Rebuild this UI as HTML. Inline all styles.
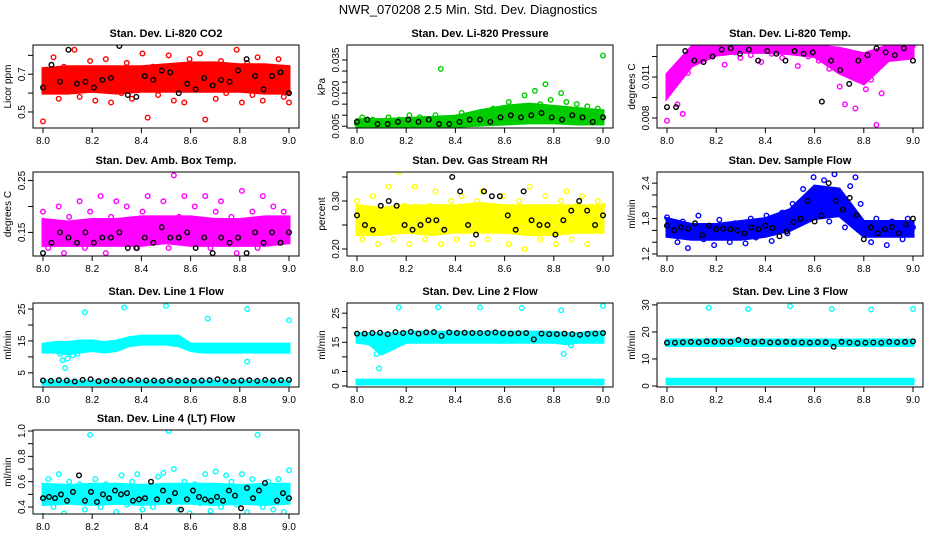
<!DOCTYPE html>
<html><head><meta charset="utf-8"><style>
html,body{margin:0;padding:0;background:#fff;width:936px;height:540px;overflow:hidden}
svg text{font-family:"Liberation Sans",sans-serif}
</style></head><body>
<svg id="c" width="936" height="540" viewBox="0 0 936 540">
<text x="468" y="14" text-anchor="middle" font-size="13">NWR_070208  2.5 Min. Std. Dev. Diagnostics</text>
</svg>
<script>
// ---- data ----
const xTicks=[8.0,8.2,8.4,8.6,8.8,9.0];
const xTickLabels=["8.0","8.2","8.4","8.6","8.8","9.0"];
const bandT11=[8.0,8.1,8.2,8.3,8.4,8.5,8.6,8.7,8.8,8.9,9.0];
const bandT21=[8.0,8.05,8.1,8.15,8.2,8.25,8.3,8.35,8.4,8.45,8.5,8.55,8.6,8.65,8.7,8.75,8.8,8.85,8.9,8.95,9.0];

const co2Main=[0.45,0.69,0.79,0.57,0.74,0.64,0.83,0.58,0.70,0.77,0.56,0.66,0.78,0.55,0.72,0.60,0.76,0.57,0.70,0.81,0.47,0.74,0.59,0.68,0.80,0.56,0.73,0.55,0.78,0.62,0.81,0.46,0.72,0.57,0.77,0.60,0.70,0.83,0.55,0.76,0.59,0.79,0.56,0.74,0.61,0.78,0.58,0.55];
const co2Black=[0.63,0.75,0.66,0.83,0.65,0.66,0.63,0.67,0.68,0.85,0.59,0.58,0.69,0.67,0.72,0.71,0.60,0.65,0.62,0.68,0.64,0.67,0.66,0.72,0.78,0.69,0.62,0.69,0.71,0.60];
const co2Lo=[0.60,0.60,0.61,0.60,0.61,0.61,0.61,0.61,0.61,0.60,0.60];
const co2Hi=[0.73,0.74,0.74,0.74,0.74,0.75,0.76,0.76,0.75,0.75,0.74];

const presMain=[0.006,0.009,0.005,0.008,0.004,0.007,0.009,0.005,0.008,0.006,0.010,0.005,0.009,0.007,0.006,0.010,0.031,0.008,0.006,0.009,0.011,0.006,0.010,0.008,0.011,0.007,0.013,0.009,0.012,0.016,0.010,0.014,0.019,0.012,0.021,0.015,0.024,0.017,0.013,0.020,0.016,0.012,0.015,0.011,0.014,0.010,0.013,0.037];
const presBlack=[0.007,0.008,0.006,0.006,0.007,0.008,0.007,0.008,0.006,0.006,0.007,0.008,0.008,0.007,0.009,0.010,0.009,0.010,0.011,0.009,0.008,0.010,0.009,0.007,0.009];
const presLo=[0.0045,0.0045,0.0045,0.0045,0.005,0.0055,0.006,0.0065,0.0065,0.006,0.006];
const presHi=[0.008,0.008,0.0085,0.009,0.0095,0.012,0.014,0.015,0.014,0.013,0.012];

const tempMain=[0.0078,0.0105,0.0090,0.0083,0.0113,0.0125,0.0130,0.0121,0.0133,0.0127,0.0131,0.0119,0.0133,0.0128,0.0124,0.0132,0.0126,0.0133,0.0121,0.0130,0.0127,0.0133,0.0124,0.0131,0.0128,0.0118,0.0133,0.0125,0.0130,0.0122,0.0133,0.0116,0.0128,0.0103,0.0090,0.0112,0.0087,0.0120,0.0101,0.0108,0.0075,0.0098,0.0127,0.0133,0.0124,0.0131,0.0128,0.0133];
const tempBlack=[0.0088,0.0088,0.0129,0.0122,0.0121,0.0125,0.0130,0.0131,0.0127,0.0130,0.0122,0.0129,0.0127,0.0122,0.0129,0.0127,0.0128,0.0092,0.0122,0.0115,0.0105,0.0122,0.0126,0.0131,0.0128,0.0126,0.0131,0.0122];
const tempLo=[0.0095,0.0118,0.0126,0.0128,0.0128,0.0127,0.0125,0.0113,0.0105,0.0122,0.0124];
const tempHi=[0.0112,0.0132,0.0133,0.0133,0.0133,0.0133,0.0133,0.0131,0.0127,0.0133,0.0133];

const ambMain=[0.19,0.12,0.17,0.20,0.11,0.18,0.14,0.21,0.12,0.19,0.16,0.22,0.11,0.18,0.21,0.13,0.20,0.17,0.12,0.19,0.22,0.14,0.17,0.21,0.12,0.26,0.18,0.22,0.13,0.20,0.17,0.22,0.12,0.19,0.21,0.14,0.18,0.11,0.23,0.16,0.19,0.12,0.22,0.17,0.20,0.13,0.19,0.15];
const ambBlack=[0.11,0.13,0.15,0.14,0.13,0.15,0.13,0.14,0.14,0.15,0.12,0.12,0.14,0.13,0.16,0.14,0.14,0.15,0.12,0.14,0.11,0.14,0.13,0.14,0.11,0.15,0.13,0.15,0.13,0.15];
const ambLo=[0.125,0.125,0.125,0.125,0.125,0.13,0.125,0.125,0.125,0.125,0.13];
const ambHi=[0.175,0.17,0.175,0.175,0.18,0.18,0.18,0.175,0.175,0.18,0.18];

const rhMain=[0.30,0.22,0.28,0.31,0.21,0.27,0.33,0.22,0.36,0.29,0.21,0.33,0.26,0.22,0.29,0.32,0.21,0.28,0.30,0.22,0.31,0.27,0.21,0.30,0.32,0.22,0.29,0.26,0.31,0.21,0.28,0.30,0.20,0.33,0.27,0.22,0.31,0.28,0.21,0.30,0.32,0.22,0.29,0.31,0.21,0.28,0.30,0.29];
const rhBlack=[0.27,0.25,0.24,0.29,0.30,0.29,0.25,0.24,0.25,0.26,0.26,0.24,0.35,0.32,0.25,0.23,0.32,0.31,0.31,0.27,0.24,0.32,0.26,0.25,0.25,0.23,0.26,0.28,0.30,0.28,0.25,0.27];
const rhLo=[0.23,0.23,0.235,0.23,0.235,0.235,0.235,0.23,0.23,0.235,0.235];
const rhHi=[0.29,0.285,0.29,0.29,0.29,0.295,0.29,0.29,0.29,0.29,0.29];

const flowMain=[1.82,1.55,1.40,1.75,1.30,1.62,1.85,1.45,1.68,1.35,1.78,1.50,1.40,1.72,1.55,1.38,1.80,1.48,1.65,1.85,1.42,1.75,1.90,1.55,2.05,1.70,2.30,1.95,2.50,2.10,2.45,1.75,2.55,2.20,1.65,2.35,2.50,2.05,1.70,1.40,1.80,1.55,1.35,1.75,1.60,1.45,1.80,1.65];
const flowBlack=[1.68,1.60,1.65,1.63,1.72,1.52,1.68,1.62,1.63,1.62,1.60,1.55,1.65,1.62,1.68,1.64,1.50,1.58,1.74,1.80,2.10,1.75,1.85,2.40,2.10,1.95,2.15,1.86,1.45,1.65,1.55,1.62,1.66,1.55,1.70,1.80];
const flowLo=[1.5,1.45,1.45,1.45,1.5,1.6,1.8,1.85,1.5,1.5,1.5];
const flowHi=[1.8,1.7,1.7,1.75,1.8,1.95,2.35,2.3,1.75,1.75,1.75];

const l1UpLo=[11.5,11.5,11,11.5,12,11.5,12,13.5,14,14,14,13.5,12,11.5,11.5,11.5,11.5,11.5,11.5,11.5,11.5];
const l1UpHi=[14,14.5,14.5,15,15,14.5,15,16,16.5,16.5,16.5,16.5,14,14,14,14,14,14,14,14,14];
const l1DnLo=[1.4,1.4,1.4,1.4,1.4,1.4,1.4,1.4,1.4,1.4,1.4,1.4,1.4,1.4,1.4,1.4,1.4,1.4,1.4,1.4,1.4];
const l1DnHi=[2.4,2.4,2.4,2.4,2.4,2.4,2.4,2.4,2.4,2.4,2.4,2.4,2.4,2.4,2.4,2.4,2.4,2.4,2.4,2.4,2.4];
const l1OutT=[8.07,8.08,8.09,8.1,8.12,8.14,8.17,8.2,8.33,8.38,8.5,8.52,8.67,8.7,8.83,8.83,9.0];
const l1OutV=[11,9,6.5,9.5,10.5,11,24,14.5,25.5,15,26,16,22,13,25,8.5,21.5];
const l1Black=[2.6,2.5,2.7,2.6,2.3,2.8,3.0,2.4,2.5,2.7,2.6,2.8,2.7,2.6,2.6,2.5,2.7,2.5,2.6,2.5,2.6,2.7,3.0,2.6,2.4,2.6,2.7,2.5,2.8,2.6,2.7,2.8];

const l2UpLo=[15,14.5,11,13,15,15,15,15,15,15,15,15,15,15,15,15,15,14.5,15,15,15];
const l2UpHi=[18,18,18,18,18.5,18.5,18.5,18.5,18.5,18.5,18.5,18.5,18.5,18.5,18.5,18.5,18.5,18,18,18.5,18.5];
const l2DnLo=[0.7,0.7,0.7,0.7,0.7,0.7,0.7,0.7,0.7,0.7,0.7,0.7,0.7,0.7,0.7,0.7,0.7,0.7,0.7,0.7,0.7];
const l2DnHi=[2,2,2,2,2,2,2,2,2,2,2,2,2,2,2,2,2,2,2,2,2];
const l2OutT=[8.08,8.09,8.1,8.11,8.12,8.13,8.17,8.33,8.5,8.67,8.83,8.84,8.87,9.0];
const l2OutV=[11,6,12,12.5,12.5,13,27,27,27,26.8,26,11,14,27.5];
const l2Black=[18,18,18.2,18.3,17.8,18.5,18.2,18.6,18,18.4,18.5,17.2,18.4,18.2,18.3,18.2,18.2,18.2,18.4,18.1,18,18.1,18.2,16,18,17.8,17.8,18,17.8,17.6,17.9,18,18.2];

const l3UpLo=[15,15,15,15,15,15,15,15,15,15,15,15,15,15,15,15,15,15,15,15,15];
const l3UpHi=[17,17,17,17,17.2,17,17,17,17,17,17,17,17,17,17,17,17,17,17,17,17];
const l3DnLo=[0.8,0.8,0.8,0.8,0.8,0.8,0.8,0.8,0.8,0.8,0.8,0.8,0.8,0.8,0.8,0.8,0.8,0.8,0.8,0.8,0.8];
const l3DnHi=[2.5,2.5,2.5,2.5,2.5,2.5,2.5,2.5,2.5,2.5,2.5,2.5,2.5,2.5,2.5,2.5,2.5,2.5,2.5,2.5,2.5];
const l3OutT=[8.17,8.33,8.5,8.67,8.83,9.0];
const l3OutV=[29,28.5,29.5,28.5,28.3,28.5];
const l3Black=[16,16,16.2,16.3,16.2,16.5,16.3,16.4,16.3,17,16.5,16.2,16.4,16.1,16.2,16.3,16.2,16.1,16,16.2,16.2,14.5,16.3,16.1,15.9,16,16.1,16,16.3,16.2,16.3,16.5];

const l4Main=[0.33,0.62,0.40,0.66,0.35,0.60,0.45,0.58,0.38,0.97,0.62,0.40,0.58,0.30,0.36,0.65,0.42,0.60,0.66,0.38,0.56,0.40,0.64,0.67,1.00,0.70,0.38,0.60,0.35,0.58,0.43,0.66,0.37,0.68,0.40,0.65,0.60,0.42,0.66,0.36,0.62,0.97,0.40,0.60,0.38,0.62,0.36,0.69];
const l4Black=[0.47,0.48,0.47,0.50,0.45,0.52,0.65,0.45,0.52,0.44,0.50,0.47,0.53,0.50,0.51,0.45,0.46,0.47,0.60,0.46,0.53,0.45,0.51,0.38,0.46,0.53,0.48,0.46,0.45,0.48,0.45,0.53,0.49,0.39,0.55,0.47,0.53,0.59,0.32,0.45,0.51,0.47];
const l4Lo=[0.42,0.43,0.42,0.43,0.42,0.43,0.43,0.42,0.43,0.42,0.43];
const l4Hi=[0.58,0.57,0.58,0.58,0.57,0.58,0.58,0.58,0.57,0.58,0.58];

// ---- render ----
const NS="http://www.w3.org/2000/svg";
const svg=document.getElementById('c');
function mk(tag,attrs,parent){const e=document.createElementNS(NS,tag);for(const k in attrs)e.setAttribute(k,attrs[k]);(parent||svg).appendChild(e);return e;}
function even(n){const a=[];for(let i=0;i<n;i++)a.push(8+i/(n-1));return a;}

function panel(p){
  const g=mk('g',{});
  
  
  const X=t=>p.x+10+(t-8)*(p.w-20);
  const Y=v=>p.y+(p.ymax-v)/(p.ymax-p.ymin)*p.h;
  const cx=mk('clipPath',{id:'cl-'+p.name},g);
  mk('rect',{x:p.x,y:p.y,width:p.w,height:p.h},cx);
  const pg=mk('g',{'clip-path':'url(#cl-'+p.name+')'},g);
  (p.bands||[]).forEach(b=>{
    let pts=b.t.map((t,i)=>X(t)+','+Y(b.hi[i]));
    pts=pts.concat(b.t.slice().reverse().map((t,i)=>X(t)+','+Y(b.lo[b.lo.length-1-i])));
    const poly=mk('polygon',{points:pts.join(' '),fill:p.color,stroke:p.color,'stroke-width':3},pg);
    
    
  });
  (p.series||[]).forEach(s=>{
    const ts=s.t||even(s.v.length);
    s.v.forEach((v,i)=>{
      const c=mk('circle',{cx:X(ts[i]),cy:Y(v),r:2.3,fill:'none',stroke:s.color,'stroke-width':1.4},pg);
      
      
    });
  });
  const box=mk('rect',{x:p.x,y:p.y,width:p.w,height:p.h,fill:'none',stroke:'#000','stroke-width':1},g);
  
  
  const tt=mk('text',{x:p.x+p.w/2,y:p.y-8,'text-anchor':'middle','font-size':11,'font-weight':'bold'},g);
  tt.textContent=p.title;
  
  
  const by=p.y+p.h;
  mk('line',{x1:X(8),x2:X(9),y1:by,y2:by,stroke:'#000'},g);
  xTicks.forEach((t,i)=>{
    mk('line',{x1:X(t),x2:X(t),y1:by,y2:by+5,stroke:'#000'},g);
    const l=mk('text',{x:X(t),y:by+16,'text-anchor':'middle','font-size':10},g);
    l.textContent=xTickLabels[i];
    
    
  });
  mk('line',{x1:p.x,x2:p.x,y1:Y(p.yt[0]),y2:Y(p.yt[p.yt.length-1]),stroke:'#000'},g);
  p.yt.forEach((v,i)=>{
    mk('line',{x1:p.x-5,x2:p.x,y1:Y(v),y2:Y(v),stroke:'#000'},g);
    if(p.yl[i]){
      const l=mk('text',{x:0,y:0,'text-anchor':'middle','font-size':10,transform:'translate('+(p.x-8)+','+Y(v)+') rotate(-90)'},g);
      l.textContent=p.yl[i];
      
      
    }
  });
  const yl=mk('text',{x:0,y:0,'text-anchor':'middle','font-size':10,transform:'translate('+(p.x-22)+','+(p.y+p.h/2)+') rotate(-90)'},g);
  yl.textContent=p.ylab;
  
  
}

const C1=33,C2=347,C3=657,W=266;
const R1=[45,83],R2=[172,84],R3=[303,84],R4=[430,84];
const RED='#ff0000',GRN='#00cc00',MAG='#ff00ff',YEL='#ffff00',BLU='#0000ff',CY='#00ffff',BK='#000000';

panel({name:'co2',title:'Stan. Dev. Li-820 CO2',ylab:'Licor ppm',x:C1,y:R1[0],w:W,h:R1[1],ymin:0.415,ymax:0.855,
  yt:[0.5,0.6,0.7,0.8],yl:['0.5','','0.7',''],color:RED,
  bands:[{t:bandT11,lo:co2Lo,hi:co2Hi}],
  series:[{v:co2Main,color:RED,kind:'co2'},{v:co2Black,color:BK,kind:'reference'}]});
panel({name:'pressure',title:'Stan. Dev. Li-820 Pressure',ylab:'kPa',x:C2,y:R1[0],w:W,h:R1[1],ymin:0.0042,ymax:0.0418,
  yt:[0.005,0.01,0.015,0.02,0.025,0.03,0.035],yl:['0.005','','','0.020','','','0.035'],color:GRN,
  bands:[{t:bandT11,lo:presLo,hi:presHi}],
  series:[{v:presMain,color:GRN,kind:'pressure'},{v:presBlack,color:BK,kind:'reference'}]});
panel({name:'li820-temp',title:'Stan. Dev. Li-820 Temp.',ylab:'degrees C',x:C3,y:R1[0],w:W,h:R1[1],ymin:0.00727,ymax:0.01334,
  yt:[0.008,0.0095,0.011,0.0125],yl:['0.008','','0.011',''],color:MAG,
  bands:[{t:bandT11,lo:tempLo,hi:tempHi}],
  series:[{v:tempMain,color:MAG,kind:'temp'},{v:tempBlack,color:BK,kind:'reference'}]});
panel({name:'amb-box-temp',title:'Stan. Dev. Amb. Box Temp.',ylab:'degrees C',x:C1,y:R2[0],w:W,h:R2[1],ymin:0.1045,ymax:0.2665,
  yt:[0.15,0.2,0.25],yl:['0.15','','0.25'],color:MAG,
  bands:[{t:bandT11,lo:ambLo,hi:ambHi}],
  series:[{v:ambMain,color:MAG,kind:'amb-temp'},{v:ambBlack,color:BK,kind:'reference'}]});
panel({name:'gas-rh',title:'Stan. Dev. Gas Stream RH',ylab:'percent',x:C2,y:R2[0],w:W,h:R2[1],ymin:0.1854,ymax:0.3604,
  yt:[0.2,0.25,0.3,0.35],yl:['0.20','','0.30',''],color:YEL,
  bands:[{t:bandT11,lo:rhLo,hi:rhHi}],
  series:[{v:rhMain,color:YEL,kind:'rh'},{v:rhBlack,color:BK,kind:'reference'}]});
panel({name:'sample-flow',title:'Stan. Dev. Sample Flow',ylab:'ml/min',x:C3,y:R2[0],w:W,h:R2[1],ymin:1.166,ymax:2.589,
  yt:[1.2,1.4,1.6,1.8,2.0,2.2,2.4],yl:['1.2','','','1.8','','','2.4'],color:BLU,
  bands:[{t:bandT11,lo:flowLo,hi:flowHi}],
  series:[{v:flowMain,color:BLU,kind:'flow'},{v:flowBlack,color:BK,kind:'reference'}]});
panel({name:'line1-flow',title:'Stan. Dev. Line 1 Flow',ylab:'ml/min',x:C1,y:R3[0],w:W,h:R3[1],ymin:0.56,ymax:26.9,
  yt:[5,10,15,20,25],yl:['5','','15','','25'],color:CY,
  bands:[{t:bandT21,lo:l1UpLo,hi:l1UpHi},{t:bandT21,lo:l1DnLo,hi:l1DnHi}],
  series:[{t:l1OutT,v:l1OutV,color:CY,kind:'line1'},{v:l1Black,color:BK,kind:'reference'}]});
panel({name:'line2-flow',title:'Stan. Dev. Line 2 Flow',ylab:'ml/min',x:C2,y:R3[0],w:W,h:R3[1],ymin:-0.35,ymax:28.5,
  yt:[0,5,10,15,20,25],yl:['0','5','','15','','25'],color:CY,
  bands:[{t:bandT21,lo:l2UpLo,hi:l2UpHi},{t:bandT21,lo:l2DnLo,hi:l2DnHi}],
  series:[{t:l2OutT,v:l2OutV,color:CY,kind:'line2'},{v:l2Black,color:BK,kind:'reference'}]});
panel({name:'line3-flow',title:'Stan. Dev. Line 3 Flow',ylab:'ml/min',x:C3,y:R3[0],w:W,h:R3[1],ymin:-0.37,ymax:30.7,
  yt:[0,10,20,30],yl:['0','10','20','30'],color:CY,
  bands:[{t:bandT21,lo:l3UpLo,hi:l3UpHi},{t:bandT21,lo:l3DnLo,hi:l3DnHi}],
  series:[{t:l3OutT,v:l3OutV,color:CY,kind:'line3'},{v:l3Black,color:BK,kind:'reference'}]});
panel({name:'line4-flow',title:'Stan. Dev. Line 4 (LT) Flow',ylab:'ml/min',x:C1,y:R4[0],w:W,h:R4[1],ymin:0.345,ymax:1.008,
  yt:[0.4,0.5,0.6,0.7,0.8,0.9,1.0],yl:['0.4','','0.6','','0.8','','1.0'],color:CY,
  bands:[{t:bandT11,lo:l4Lo,hi:l4Hi}],
  series:[{v:l4Main,color:CY,kind:'line4'},{v:l4Black,color:BK,kind:'reference'}]});
</script>
</body></html>
